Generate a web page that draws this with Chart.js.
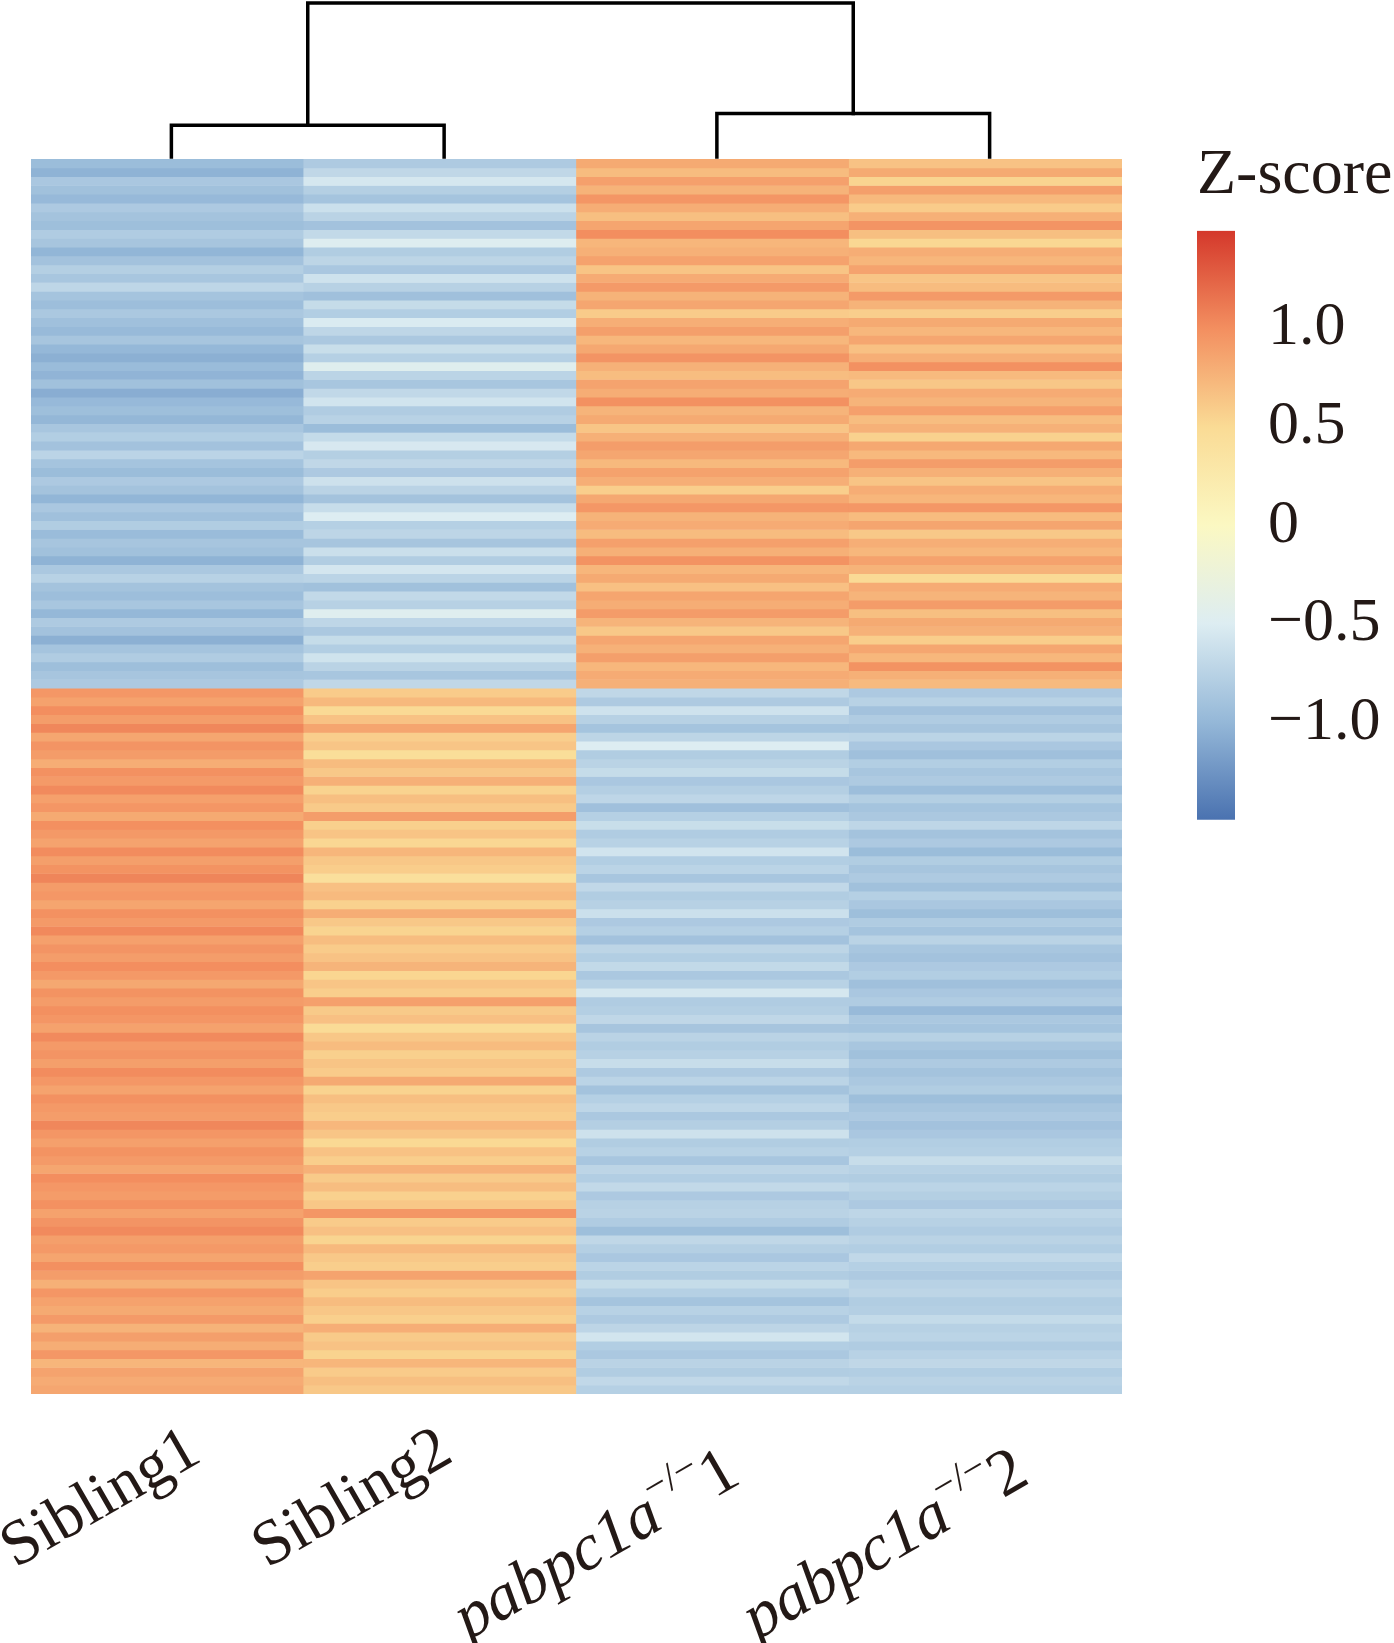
<!DOCTYPE html>
<html>
<head>
<meta charset="utf-8">
<title>Z-score heatmap</title>
<script src="https://cdn.jsdelivr.net/npm/chart.js@4.4.1/dist/chart.umd.min.js"></script>
<style>
  body { margin: 0; background: #ffffff; }
  #wrap { position: relative; width: 1394px; height: 1643px; overflow: hidden; background: #ffffff; }
  canvas { position: absolute; }
</style>
</head>
<body>
<div id="wrap">
  <canvas id="heat" width="1394" height="1643" style="left:0;top:0"></canvas>
  <canvas id="dendro" width="1091" height="159" style="left:35px;top:0"></canvas>
  <canvas id="zscale" width="204" height="760" style="left:1190px;top:130px"></canvas>
</div>
<script>
// Samples (columns), in dendrogram order
const sampleNames = ["Sibling1", "Sibling2", "pabpc1a", "pabpc1a"];
const sampleGenotype = ["", "", "\u2212/\u2212", "\u2212/\u2212"];
const sampleReplicate = ["", "", "1", "2"];

// Row z-scores per sample, top cluster (60 rows) then bottom cluster (80 rows)
const sibling1 = [
  -0.95,-1.03,-0.85,-0.91,-0.98,-0.83,-0.89,-0.93,-0.81,-0.87,
  -1.01,-0.90,-0.78,-0.86,-0.71,-0.88,-0.94,-0.84,-0.92,-0.97,
  -0.87,-0.99,-1.05,-0.96,-1.02,-0.91,-1.07,-0.98,-0.93,-1.00,
  -0.86,-0.79,-0.90,-0.73,-0.88,-0.95,-0.83,-0.89,-1.01,-0.85,
  -0.92,-0.80,-0.96,-0.87,-0.91,-1.03,-0.84,-0.75,-0.89,-0.94,
  -0.86,-0.99,-0.82,-0.90,-1.05,-0.88,-0.81,-0.93,-0.87,-0.83,
  0.94,0.87,1.00,0.90,1.04,0.84,0.96,0.91,0.80,0.98,
  0.92,1.02,0.88,0.95,0.82,0.99,0.93,0.86,1.01,0.89,
  0.97,1.05,0.91,0.94,0.85,0.98,0.92,1.03,0.88,0.96,
  0.90,1.00,0.93,0.83,0.97,0.91,0.99,0.95,0.87,1.02,
  0.92,0.96,0.89,1.01,0.94,0.86,0.98,0.93,0.90,1.04,
  0.95,0.88,0.97,0.92,0.84,1.00,0.94,0.91,0.98,0.87,
  0.96,1.02,0.89,0.93,0.85,0.99,0.90,0.78,0.95,0.87,
  0.82,0.92,0.76,0.89,0.80,0.94,0.74,0.86,0.81,0.84
];
const sibling2 = [
  -0.82,-0.70,-0.55,-0.78,-0.88,-0.62,-0.74,-0.90,-0.68,-0.48,
  -0.80,-0.72,-0.85,-0.60,-0.76,-0.92,-0.66,-0.79,-0.52,-0.71,
  -0.84,-0.64,-0.77,-0.46,-0.73,-0.86,-0.69,-0.58,-0.81,-0.75,
  -0.95,-0.67,-0.54,-0.78,-0.70,-0.83,-0.61,-0.74,-0.89,-0.65,
  -0.50,-0.77,-0.72,-0.87,-0.63,-0.80,-0.56,-0.73,-0.91,-0.68,
  -0.76,-0.47,-0.71,-0.84,-0.66,-0.79,-0.59,-0.74,-0.86,-0.70,
  0.60,0.72,0.50,0.66,0.85,0.58,0.64,0.45,0.70,0.62,
  0.78,0.55,0.68,0.61,0.90,0.57,0.65,0.52,0.74,0.63,
  0.59,0.42,0.67,0.71,0.56,0.80,0.62,0.54,0.69,0.60,
  0.66,0.75,0.53,0.64,0.58,0.88,0.61,0.67,0.49,0.63,
  0.70,0.57,0.65,0.60,0.82,0.55,0.68,0.62,0.59,0.73,
  0.64,0.51,0.66,0.58,0.77,0.61,0.69,0.56,0.63,0.95,
  0.60,0.67,0.54,0.72,0.62,0.58,0.86,0.65,0.59,0.70,
  0.63,0.57,0.79,0.61,0.66,0.55,0.74,0.60,0.68,0.62
];
const pabpc1 = [
  0.82,0.70,0.88,0.76,0.95,0.80,0.68,0.85,1.00,0.74,
  0.78,0.87,0.65,0.81,0.92,0.76,0.84,0.60,0.79,0.89,
  0.73,0.83,0.96,0.77,0.69,0.86,0.80,0.98,0.75,0.82,
  0.64,0.78,0.90,0.84,0.72,0.87,0.79,0.58,0.83,0.94,
  0.76,0.81,0.70,0.88,0.78,0.97,0.74,0.82,0.67,0.85,
  0.80,0.91,0.75,0.62,0.84,0.77,0.89,0.73,0.81,0.78,
  -0.70,-0.82,-0.60,-0.76,-0.88,-0.72,-0.50,-0.80,-0.74,-0.66,
  -0.85,-0.78,-0.71,-0.92,-0.77,-0.64,-0.81,-0.75,-0.58,-0.79,
  -0.73,-0.86,-0.69,-0.80,-0.76,-0.62,-0.83,-0.77,-0.90,-0.72,
  -0.79,-0.68,-0.84,-0.75,-0.55,-0.81,-0.78,-0.70,-0.87,-0.74,
  -0.80,-0.76,-0.65,-0.82,-0.73,-0.89,-0.77,-0.71,-0.84,-0.78,
  -0.61,-0.80,-0.75,-0.86,-0.72,-0.79,-0.68,-0.83,-0.76,-0.74,
  -0.81,-0.93,-0.70,-0.78,-0.85,-0.73,-0.80,-0.66,-0.77,-0.88,
  -0.75,-0.82,-0.72,-0.57,-0.79,-0.84,-0.74,-0.80,-0.69,-0.77
];
const pabpc2 = [
  0.66,0.82,0.54,0.89,0.72,0.60,0.78,0.96,0.68,0.52,
  0.80,0.74,0.86,0.64,0.70,0.92,0.76,0.58,0.82,0.73,
  0.84,0.67,0.79,0.98,0.71,0.63,0.81,0.75,0.88,0.69,
  0.77,0.56,0.83,0.72,0.90,0.78,0.65,0.80,0.74,0.94,
  0.70,0.85,0.62,0.79,0.73,0.87,0.76,0.50,0.81,0.75,
  0.91,0.68,0.82,0.77,0.59,0.84,0.73,0.97,0.78,0.71,
  -0.83,-0.75,-0.90,-0.81,-0.87,-0.73,-0.85,-0.92,-0.79,-0.86,
  -0.82,-0.94,-0.78,-0.88,-0.84,-0.71,-0.89,-0.83,-0.95,-0.80,
  -0.87,-0.82,-0.91,-0.77,-0.85,-0.93,-0.81,-0.88,-0.74,-0.86,
  -0.90,-0.83,-0.79,-0.92,-0.85,-0.81,-0.97,-0.84,-0.88,-0.76,
  -0.86,-0.91,-0.82,-0.89,-0.84,-0.80,-0.93,-0.87,-0.83,-0.90,
  -0.85,-0.79,-0.77,-0.65,-0.75,-0.80,-0.73,-0.78,-0.83,-0.71,
  -0.76,-0.81,-0.74,-0.79,-0.69,-0.77,-0.82,-0.75,-0.72,-0.80,
  -0.78,-0.67,-0.76,-0.73,-0.81,-0.75,-0.70,-0.79,-0.74,-0.77
];

// Column dendrogram merge heights
const mergeSibling = 3.8;
const mergePabpc = 5.2;
const mergeRoot = 18.4;

// Colour key
const zMin = -1.49;
const zMax = 1.49;
const zTicks = [1.0, 0.5, 0, -0.5, -1.0];
const zTickLabels = ["1.0", "0.5", "0", "\u22120.5", "\u22121.0"];
// blue -> yellow -> red, as printed
const palette = ["#4A72B0", "#95B8D8", "#DDEDF2", "#FBF8C2", "#FADB95", "#F38F60", "#D4382B"];

const textColor = "#231916";
const serif = "\"Liberation Serif\", \"Times New Roman\", serif";

// small per-label nudges of the rotated sample names (px, right of column centre)
const labelNudge = [36, 15, 30, 46];

function hexToRgb(h) {
  return [parseInt(h.slice(1, 3), 16), parseInt(h.slice(3, 5), 16), parseInt(h.slice(5, 7), 16)];
}
const paletteRgb = palette.map(hexToRgb);

// value -> colour, linear interpolation between palette stops
function zColor(v) {
  let t = (v - zMin) / (zMax - zMin);
  t = Math.max(0, Math.min(1, t));
  const pos = t * (paletteRgb.length - 1);
  const i = Math.min(Math.floor(pos), paletteRgb.length - 2);
  const f = pos - i;
  const a = paletteRgb[i], b = paletteRgb[i + 1];
  const c = [0, 1, 2].map(k => Math.round(a[k] + (b[k] - a[k]) * f));
  return "rgb(" + c[0] + "," + c[1] + "," + c[2] + ")";
}

// ---------- heatmap ----------
const columns = [sibling1, sibling2, pabpc1, pabpc2];
const nRows = sibling1.length;
const rowDatasets = [];
for (let r = 0; r < nRows; r++) {
  rowDatasets.push({
    data: columns.map(() => 1),
    backgroundColor: columns.map(col => zColor(col[r])),
    borderWidth: 0,
    barPercentage: 1,
    categoryPercentage: 1
  });
}

// rotated sample labels with italic gene name and superscript genotype
const sampleLabelPlugin = {
  id: "sampleLabels",
  afterDraw(chart) {
    const ctx = chart.ctx;
    const xs = chart.scales.x;
    const bottom = chart.chartArea.bottom;
    ctx.save();
    ctx.fillStyle = textColor;
    ctx.textBaseline = "alphabetic";
    ctx.textAlign = "left";
    for (let i = 0; i < sampleNames.length; i++) {
      const parts = [];
      if (sampleGenotype[i]) {
        parts.push({ t: sampleNames[i], font: "italic 66px " + serif, dy: 0 });
        parts.push({ t: sampleGenotype[i], font: "40px " + serif, dy: -28 });
        parts.push({ t: sampleReplicate[i], font: "66px " + serif, dy: 0 });
      } else {
        parts.push({ t: sampleNames[i], font: "64px " + serif, dy: 0 });
      }
      let total = 0;
      parts.forEach(p => { ctx.font = p.font; p.w = ctx.measureText(p.t).width; total += p.w; });
      const x = xs.getPixelForTick(i) + labelNudge[i];
      const y = bottom + (sampleGenotype[i] ? 88 : 66);
      ctx.save();
      ctx.translate(x, y);
      ctx.rotate(-Math.PI / 6);
      let cx = -total;
      parts.forEach(p => { ctx.font = p.font; ctx.fillText(p.t, cx, p.dy); cx += p.w; });
      ctx.restore();
    }
    ctx.restore();
  }
};

new Chart(document.getElementById("heat"), {
  type: "bar",
  data: {
    labels: sampleNames.map((n, i) => n + sampleGenotype[i] + sampleReplicate[i]),
    datasets: rowDatasets
  },
  options: {
    responsive: false,
    animation: false,
    layout: { padding: { left: 31, top: 159, right: 272, bottom: 249 } },
    plugins: { legend: { display: false }, tooltip: { enabled: false } },
    scales: {
      x: { stacked: true, display: false },
      y: { stacked: true, display: false, min: 0, max: nRows, reverse: true }
    }
  },
  plugins: [sampleLabelPlugin]
});

// ---------- column dendrogram ----------
function branch(x0, h0, x1, h1, h) {
  return [{ x: x0, y: h0 }, { x: x0, y: h }, { x: x1, y: h }, { x: x1, y: h1 }];
}
const dendroStyle = {
  showLine: true, borderColor: "#000000", borderWidth: 3.5, pointRadius: 0,
  tension: 0, clip: false, borderJoinStyle: "miter", borderCapStyle: "square"
};

new Chart(document.getElementById("dendro"), {
  type: "scatter",
  data: {
    datasets: [
      Object.assign({ data: branch(0, 0, 1, 0, mergeSibling) }, dendroStyle),
      Object.assign({ data: branch(2, 0, 3, 0, mergePabpc) }, dendroStyle),
      Object.assign({ data: branch(0.5, mergeSibling, 2.5, mergePabpc, mergeRoot) }, dendroStyle)
    ]
  },
  options: {
    responsive: false,
    animation: false,
    layout: { padding: { left: 0, right: 0, top: 3, bottom: 2 } },
    plugins: { legend: { display: false }, tooltip: { enabled: false } },
    scales: {
      x: { type: "linear", min: -0.5, max: 3.5, display: false },
      y: { type: "linear", min: 0, max: mergeRoot, display: false }
    }
  }
});

// ---------- colour key ----------
new Chart(document.getElementById("zscale"), {
  type: "bar",
  data: {
    labels: ["Z-score"],
    datasets: [{
      data: [[zMin, zMax]],
      borderWidth: 0,
      barPercentage: 1,
      categoryPercentage: 1,
      backgroundColor(c) {
        const chart = c.chart;
        if (!chart.chartArea) return palette[3];
        const ys = chart.scales.y;
        const g = chart.ctx.createLinearGradient(0, ys.getPixelForValue(zMin), 0, ys.getPixelForValue(zMax));
        palette.forEach((col, i) => g.addColorStop(i / (palette.length - 1), col));
        return g;
      }
    }]
  },
  options: {
    responsive: false,
    animation: false,
    layout: { padding: { left: 7, right: 0, top: 0, bottom: 68 } },
    plugins: {
      legend: { display: false },
      tooltip: { enabled: false },
      title: {
        display: true,
        text: "Z-score",
        align: "start",
        color: textColor,
        font: { family: serif, size: 64, weight: "normal" },
        padding: { top: 8, bottom: 16 }
      }
    },
    scales: {
      x: { display: false },
      y: {
        position: "right",
        min: zMin,
        max: zMax,
        border: { display: false },
        grid: { display: false, drawTicks: false },
        afterBuildTicks(scale) { scale.ticks = zTicks.map(v => ({ value: v })); },
        afterFit(scale) { scale.width = 159; },
        ticks: {
          padding: 33,
          color: textColor,
          font: { family: serif, size: 62 },
          callback(value) {
            const i = zTicks.indexOf(value);
            return i >= 0 ? zTickLabels[i] : "";
          }
        }
      }
    }
  }
});
</script>
</body>
</html>
